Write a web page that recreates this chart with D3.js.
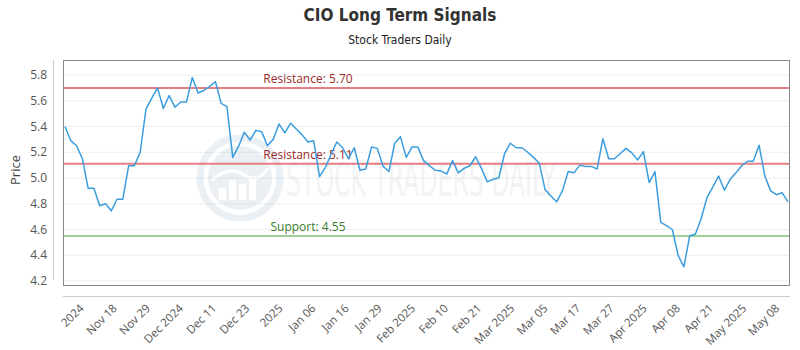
<!DOCTYPE html>
<html><head><meta charset="utf-8">
<script src="https://cdn.jsdelivr.net/npm/d3@7"></script>
<style>body{margin:0;background:#fff}svg{display:block}</style>
</head><body><svg id="c" width="800" height="350"></svg>
<script>
const prices = [
5.40,5.29,5.25,5.15,4.92,4.92,4.785,4.80,4.745,4.835,4.835,5.095,5.095,5.20,5.535,5.62,5.70,5.54,5.64,5.55,5.59,5.59,5.78,5.66,5.68,5.71,
5.75,5.58,5.555,5.16,5.245,5.355,5.295,5.37,5.36,5.25,5.30,5.42,5.35,5.425,5.38,5.335,5.28,5.29,5.01,5.08,5.185,5.28,5.235,5.15,5.235,
5.06,5.07,5.24,5.23,5.09,5.05,5.27,5.32,5.16,5.24,5.24,5.135,5.095,5.06,5.055,5.03,5.135,5.04,5.075,5.095,5.165,5.075,4.97,4.99,5.00,
5.19,5.27,5.235,5.235,5.20,5.16,5.115,4.91,4.86,4.815,4.90,5.05,5.04,5.10,5.09,5.09,5.07,5.305,5.15,5.15,5.19,5.23,5.195,5.14,5.205,
4.965,5.05,4.655,4.63,4.60,4.40,4.31,4.55,4.565,4.685,4.85,4.93,5.015,4.905,4.99,5.04,5.095,5.13,5.13,5.255,5.015,4.90,4.87,4.885,4.815
];
const xTickLabels = ["2024","Nov 18","Nov 29","Dec 2024","Dec 11","Dec 23","2025","Jan 06","Jan 16","Jan 29","Feb 2025","Feb 10","Feb 21","Mar 2025","Mar 05","Mar 17","Mar 27","Apr 2025","Apr 08","Apr 21","May 2025","May 08"];
const yTicks = [4.2,4.4,4.6,4.8,5.0,5.2,5.4,5.6,5.8];
const levelNames = ["Resistance","Resistance","Support"];
const levelValues = [5.70,5.11,4.55];
const levelColors = ["#e57f84","#e57f84","#9fd09a"];
const levelTextColors = ["#9a2a2a","#9a2a2a","#3b7d2a"];

const svg = d3.select("#c");
const L=63, R=790, T=60, B=286;
const x = d3.scaleLinear().domain([0, prices.length-1]).range([65, 788]);
const y = d3.scaleLinear().domain([4.2,5.8]).range([281,75]);

// title
svg.append("text").attr("x",400).attr("y",21).attr("text-anchor","middle")
  .attr("font-family","'DejaVu Sans Condensed','Liberation Sans Narrow',sans-serif").attr("font-weight","bold")
  .attr("font-size",17).attr("fill","#333").text("CIO Long Term Signals");
svg.append("text").attr("x",400).attr("y",44).attr("text-anchor","middle")
  .attr("font-family","'DejaVu Sans Condensed','Liberation Sans Narrow',sans-serif")
  .attr("font-size",12).attr("fill","#222").text("Stock Traders Daily");

// gridlines
svg.append("g").selectAll("line").data(yTicks).join("line")
  .attr("x1",L).attr("x2",R).attr("y1",d=>y(d)).attr("y2",d=>y(d))
  .attr("stroke","#eeeeee").attr("stroke-width",1);

// watermark
const wm = svg.append("g").attr("opacity",0.1);
wm.append("circle").attr("cx",240).attr("cy",178).attr("r",40).attr("fill","none").attr("stroke","#4a78a8").attr("stroke-width",7);
wm.append("circle").attr("cx",240).attr("cy",178).attr("r",32).attr("fill","#4a78a8");
[[222,12],[232,20],[242,16],[252,24]].forEach(([bx,h])=>{
  wm.append("rect").attr("x",bx-3).attr("y",200-h).attr("width",7).attr("height",h).attr("fill","#fff");
});
wm.append("path").attr("d","M212,180 Q230,165 244,175 T268,168").attr("fill","none").attr("stroke","#fff").attr("stroke-width",3);
wm.append("text").attr("x",286).attr("y",196).attr("font-family","'DejaVu Sans Condensed',sans-serif")
  .attr("font-size",46).attr("fill","#7f93a8").attr("textLength",270).attr("lengthAdjust","spacingAndGlyphs").text("STOCK TRADERS DAILY");

// level lines
svg.append("g").selectAll("line").data(levelValues).join("line")
  .attr("x1",L).attr("x2",R).attr("y1",d=>y(d)).attr("y2",d=>y(d))
  .attr("stroke",(d,i)=>levelColors[i]).attr("stroke-width",2);
svg.append("g").selectAll("text").data(levelValues).join("text")
  .attr("x",308).attr("y",d=>y(d)-5).attr("text-anchor","middle")
  .attr("font-family","'Open Sans',sans-serif").attr("font-size",12)
  .attr("fill",(d,i)=>levelTextColors[i])
  .text((d,i)=>levelNames[i]+": "+d.toFixed(2));

// price line
svg.append("path").datum(prices)
  .attr("d", d3.line().x((d,i)=>x(i)).y(d=>y(d)))
  .attr("fill","none").attr("stroke","#3b9ddd").attr("stroke-width",1.5).attr("stroke-linejoin","round");

// frame
svg.append("rect").attr("x",L+0.5).attr("y",T+0.5).attr("width",R-L-1).attr("height",B-T-1)
  .attr("fill","none").attr("stroke","#888").attr("stroke-width",1);

// y axis
svg.append("line").attr("x1",53.5).attr("x2",53.5).attr("y1",60).attr("y2",280).attr("stroke","#ccc");
svg.append("g").selectAll("text").data(yTicks).join("text")
  .attr("x",47).attr("y",d=>y(d)+4).attr("text-anchor","end")
  .attr("font-family","'Open Sans',sans-serif").attr("font-size",12).attr("fill","#555")
  .text(d=>d.toFixed(1));
svg.append("text").attr("transform","translate(20,170) rotate(-90)").attr("text-anchor","middle")
  .attr("font-family","'Open Sans',sans-serif").attr("font-size",13).attr("fill","#444").text("Price");

// x axis
svg.append("line").attr("x1",63).attr("x2",790).attr("y1",296.5).attr("y2",296.5).attr("stroke","#ccc");
const step = prices.length/xTickLabels.length;
svg.append("g").selectAll("text").data(xTickLabels).join("text")
  .attr("transform",(d,i)=>`translate(${x(step*(i+0.5))+3},309) rotate(-45)`)
  .attr("text-anchor","end")
  .attr("font-family","'Open Sans',sans-serif").attr("font-size",11.5).attr("fill","#555")
  .text(d=>d);
</script></body></html>
